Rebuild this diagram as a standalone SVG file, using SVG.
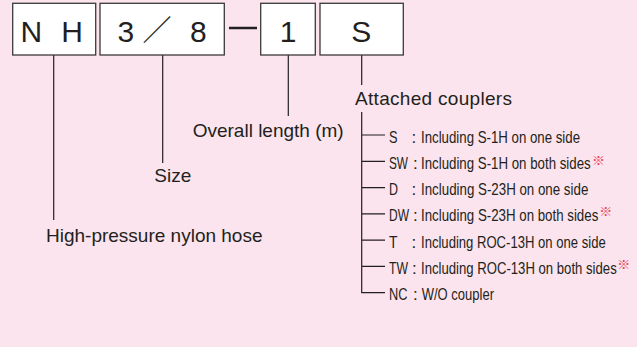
<svg xmlns="http://www.w3.org/2000/svg" width="637" height="347" viewBox="0 0 637 347">
<style>
.box{fill:#fff;stroke:#3a3a3a;stroke-width:1.3}
.big{font-family:"Liberation Sans",Arial,sans-serif;font-size:30px;fill:#231f20;text-anchor:middle}
.lbl{font-family:"Liberation Sans",Arial,sans-serif;font-size:19px;fill:#231f20}
.opt{font-family:"Liberation Sans",Arial,sans-serif;font-size:17px;fill:#231f20}
.note{font-family:"Noto Sans CJK JP",sans-serif;font-size:13px;fill:#e8424f}
.ln{stroke:#231f20;stroke-width:1.2;fill:none}
</style>
<rect width="637" height="347" fill="#fbe4ed"/>
<g id="connectors">
<line class="ln" x1="53.7" y1="55" x2="53.7" y2="220"/>
<line class="ln" x1="162.7" y1="55" x2="162.7" y2="163"/>
<line class="ln" x1="288.3" y1="55" x2="288.3" y2="116"/>
<line class="ln" x1="361.7" y1="55" x2="361.7" y2="85"/>
<path class="ln" d="M361.7 112V292.7H385M361.7 135H385M361.7 161.3H385M361.7 187.6H385M361.7 213.8H385M361.7 240.1H385M361.7 266.4H385"/>
<line x1="229" y1="28" x2="257" y2="28" stroke="#231f20" stroke-width="2.5"/>
</g>
<g id="box-nh">
<rect class="box" x="12.7" y="3.3" width="83" height="51.7"/>
<text class="big" x="31.3" y="41.7">N</text>
<text class="big" x="72.2" y="41.7">H</text>
</g>
<g id="box-size">
<rect class="box" x="100" y="3.3" width="124.3" height="51.7"/>
<text class="big" x="125.8" y="41.7">3</text>
<text x="157" y="41" font-family="Noto Sans CJK JP,sans-serif" font-size="29" fill="#231f20" text-anchor="middle">／</text>
<text class="big" x="198.3" y="41.7">8</text>
</g>
<g id="box-length">
<rect class="box" x="260.7" y="3.3" width="54.6" height="51.7"/>
<text class="big" x="288" y="41.7">1</text>
</g>
<g id="box-coupler">
<rect class="box" x="320" y="3.3" width="83.3" height="51.7"/>
<text class="big" x="361.3" y="41.7">S</text>
</g>
<g id="label-hose"><text class="lbl" x="46" y="242">High-pressure nylon hose</text></g>
<g id="label-size"><text class="lbl" x="154.3" y="182.3">Size</text></g>
<g id="label-length"><text class="lbl" x="192.7" y="137">Overall length (m)</text></g>
<g id="label-couplers"><text class="lbl" x="355" y="105" textLength="157">Attached couplers</text></g>
<g id="opt-s">
<text class="opt" x="389" y="142.5" textLength="8.5" lengthAdjust="spacingAndGlyphs">S</text>
<text class="opt" x="411.5" y="142.5">:</text>
<text class="opt" x="421" y="142.5" textLength="159" lengthAdjust="spacingAndGlyphs">Including S-1H on one side</text>
</g>
<g id="opt-sw">
<text class="opt" x="389" y="168.8" textLength="19" lengthAdjust="spacingAndGlyphs">SW</text>
<text class="opt" x="413" y="168.8">:</text>
<text class="opt" x="421" y="168.8" textLength="169.7" lengthAdjust="spacingAndGlyphs">Including S-1H on both sides</text>
<text class="note" x="592" y="164.5">※</text>
</g>
<g id="opt-d">
<text class="opt" x="389" y="195.1" textLength="9" lengthAdjust="spacingAndGlyphs">D</text>
<text class="opt" x="411.5" y="195.1">:</text>
<text class="opt" x="421" y="195.1" textLength="167.3" lengthAdjust="spacingAndGlyphs">Including S-23H on one side</text>
</g>
<g id="opt-dw">
<text class="opt" x="389" y="221.3" textLength="20" lengthAdjust="spacingAndGlyphs">DW</text>
<text class="opt" x="413" y="221.3">:</text>
<text class="opt" x="421" y="221.3" textLength="177.3" lengthAdjust="spacingAndGlyphs">Including S-23H on both sides</text>
<text class="note" x="599.3" y="216.2">※</text>
</g>
<g id="opt-t">
<text class="opt" x="389" y="247.6" textLength="8.5" lengthAdjust="spacingAndGlyphs">T</text>
<text class="opt" x="411.5" y="247.6">:</text>
<text class="opt" x="421" y="247.6" textLength="184.7" lengthAdjust="spacingAndGlyphs">Including ROC-13H on one side</text>
</g>
<g id="opt-tw">
<text class="opt" x="389" y="273.9" textLength="19" lengthAdjust="spacingAndGlyphs">TW</text>
<text class="opt" x="412" y="273.9">:</text>
<text class="opt" x="421" y="273.9" textLength="195.7" lengthAdjust="spacingAndGlyphs">Including ROC-13H on both sides</text>
<text class="note" x="617.3" y="268.8">※</text>
</g>
<g id="opt-nc">
<text class="opt" x="389" y="300.2" textLength="18.5" lengthAdjust="spacingAndGlyphs">NC</text>
<text class="opt" x="413" y="300.2">:</text>
<text class="opt" x="421.7" y="300.2" textLength="72.3" lengthAdjust="spacingAndGlyphs">W/O coupler</text>
</g>
</svg>
